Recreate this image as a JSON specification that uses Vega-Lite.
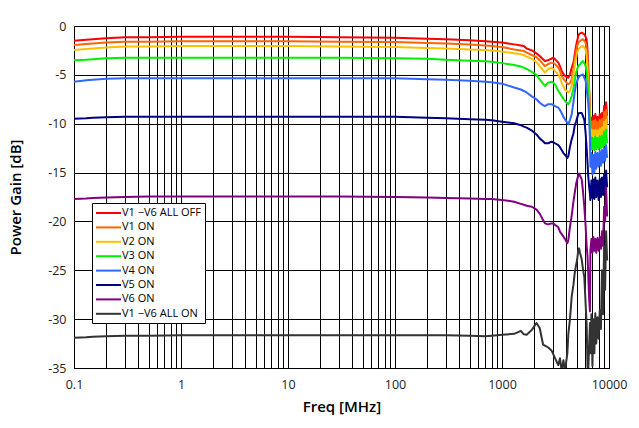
{
  "$schema": "https://vega.github.io/schema/vega-lite/v6.json",
  "width": 535,
  "height": 342,
  "autosize": {"type": "none"},
  "padding": {"left": 74, "top": 26, "right": 30, "bottom": 60},
  "background": "white",
  "config": {
    "view": {"stroke": "black", "strokeWidth": 1},
    "font": "Open Sans"
  },
  "data": {
    "values": [
      {"f": 0.1, "V1 −V6 ALL OFF": -1.5, "V1 ON": -1.95, "V2 ON": -2.45, "V3 ON": -3.5, "V4 ON": -5.7, "V5 ON": -9.5, "V6 ON": -17.7, "V1 −V6 ALL ON": -31.9},
      {"f": 0.13, "V1 −V6 ALL OFF": -1.4, "V1 ON": -1.85, "V2 ON": -2.35, "V3 ON": -3.45, "V4 ON": -5.55, "V5 ON": -9.45, "V6 ON": -17.65, "V1 −V6 ALL ON": -31.85},
      {"f": 0.15, "V1 −V6 ALL OFF": -1.35, "V1 ON": -1.8, "V2 ON": -2.3, "V3 ON": -3.4, "V4 ON": -5.5, "V5 ON": -9.4, "V6 ON": -17.6, "V1 −V6 ALL ON": -31.8},
      {"f": 0.2, "V1 −V6 ALL OFF": -1.25, "V1 ON": -1.7, "V2 ON": -2.2, "V3 ON": -3.3, "V4 ON": -5.4, "V5 ON": -9.35, "V6 ON": -17.55, "V1 −V6 ALL ON": -31.75},
      {"f": 0.3, "V1 −V6 ALL OFF": -1.15, "V1 ON": -1.6, "V2 ON": -2.1, "V3 ON": -3.25, "V4 ON": -5.35, "V5 ON": -9.3, "V6 ON": -17.5, "V1 −V6 ALL ON": -31.7},
      {"f": 0.5, "V1 −V6 ALL OFF": -1.15, "V1 ON": -1.6, "V2 ON": -2.1, "V3 ON": -3.25, "V4 ON": -5.35, "V5 ON": -9.3, "V6 ON": -17.45, "V1 −V6 ALL ON": -31.7},
      {"f": 1, "V1 −V6 ALL OFF": -1.1, "V1 ON": -1.55, "V2 ON": -2.05, "V3 ON": -3.25, "V4 ON": -5.35, "V5 ON": -9.3, "V6 ON": -17.45, "V1 −V6 ALL ON": -31.65},
      {"f": 3, "V1 −V6 ALL OFF": -1.1, "V1 ON": -1.55, "V2 ON": -2.05, "V3 ON": -3.25, "V4 ON": -5.35, "V5 ON": -9.3, "V6 ON": -17.45, "V1 −V6 ALL ON": -31.65},
      {"f": 10, "V1 −V6 ALL OFF": -1.1, "V1 ON": -1.55, "V2 ON": -2.05, "V3 ON": -3.25, "V4 ON": -5.35, "V5 ON": -9.3, "V6 ON": -17.45, "V1 −V6 ALL ON": -31.65},
      {"f": 30, "V1 −V6 ALL OFF": -1.15, "V1 ON": -1.6, "V2 ON": -2.1, "V3 ON": -3.25, "V4 ON": -5.35, "V5 ON": -9.3, "V6 ON": -17.45, "V1 −V6 ALL ON": -31.65},
      {"f": 100, "V1 −V6 ALL OFF": -1.2, "V1 ON": -1.65, "V2 ON": -2.15, "V3 ON": -3.3, "V4 ON": -5.35, "V5 ON": -9.3, "V6 ON": -17.5, "V1 −V6 ALL ON": -31.65},
      {"f": 200, "V1 −V6 ALL OFF": -1.3, "V1 ON": -1.75, "V2 ON": -2.25, "V3 ON": -3.35, "V4 ON": -5.45, "V5 ON": -9.4, "V6 ON": -17.55, "V1 −V6 ALL ON": -31.65},
      {"f": 300, "V1 −V6 ALL OFF": -1.35, "V1 ON": -1.8, "V2 ON": -2.3, "V3 ON": -3.45, "V4 ON": -5.5, "V5 ON": -9.45, "V6 ON": -17.6, "V1 −V6 ALL ON": -31.65},
      {"f": 500, "V1 −V6 ALL OFF": -1.47, "V1 ON": -1.9, "V2 ON": -2.4, "V3 ON": -3.55, "V4 ON": -5.6, "V5 ON": -9.55, "V6 ON": -17.65, "V1 −V6 ALL ON": -31.7},
      {"f": 700, "V1 −V6 ALL OFF": -1.55, "V1 ON": -2.0, "V2 ON": -2.45, "V3 ON": -3.6, "V4 ON": -5.7, "V5 ON": -9.6, "V6 ON": -17.7, "V1 −V6 ALL ON": -31.75},
      {"f": 800, "V1 −V6 ALL OFF": -1.6, "V1 ON": -2.05, "V2 ON": -2.5, "V3 ON": -3.65, "V4 ON": -5.75, "V5 ON": -9.65, "V6 ON": -17.7, "V1 −V6 ALL ON": -31.7},
      {"f": 1000, "V1 −V6 ALL OFF": -1.7, "V1 ON": -2.15, "V2 ON": -2.6, "V3 ON": -3.8, "V4 ON": -5.9, "V5 ON": -9.8, "V6 ON": -17.8, "V1 −V6 ALL ON": -31.6},
      {"f": 1300, "V1 −V6 ALL OFF": -1.88, "V1 ON": -2.4, "V2 ON": -2.8, "V3 ON": -4.0, "V4 ON": -6.3, "V5 ON": -9.96, "V6 ON": -17.98, "V1 −V6 ALL ON": -31.5},
      {"f": 1500, "V1 −V6 ALL OFF": -2.0, "V1 ON": -2.5, "V2 ON": -2.9, "V3 ON": -4.15, "V4 ON": -6.5, "V5 ON": -10.15, "V6 ON": -18.2, "V1 −V6 ALL ON": -31.2},
      {"f": 1600, "V1 −V6 ALL OFF": -2.05, "V1 ON": -2.56, "V2 ON": -2.97, "V3 ON": -4.26, "V4 ON": -6.65, "V5 ON": -10.3, "V6 ON": -18.3, "V1 −V6 ALL ON": -31.55},
      {"f": 1700, "V1 −V6 ALL OFF": -2.3, "V1 ON": -2.73, "V2 ON": -3.14, "V3 ON": -4.4, "V4 ON": -6.8, "V5 ON": -10.4, "V6 ON": -18.4, "V1 −V6 ALL ON": -31.6},
      {"f": 1900, "V1 −V6 ALL OFF": -2.5, "V1 ON": -2.97, "V2 ON": -3.35, "V3 ON": -4.7, "V4 ON": -7.2, "V5 ON": -10.7, "V6 ON": -18.5, "V1 −V6 ALL ON": -31.1},
      {"f": 2100, "V1 −V6 ALL OFF": -2.8, "V1 ON": -3.2, "V2 ON": -3.7, "V3 ON": -5.0, "V4 ON": -7.5, "V5 ON": -11.1, "V6 ON": -18.8, "V1 −V6 ALL ON": -30.4},
      {"f": 2250, "V1 −V6 ALL OFF": -3.07, "V1 ON": -3.5, "V2 ON": -4.1, "V3 ON": -5.46, "V4 ON": -7.85, "V5 ON": -11.5, "V6 ON": -19.2, "V1 −V6 ALL ON": -30.9},
      {"f": 2420, "V1 −V6 ALL OFF": -3.4, "V1 ON": -3.9, "V2 ON": -4.55, "V3 ON": -5.9, "V4 ON": -8.1, "V5 ON": -11.8, "V6 ON": -19.85, "V1 −V6 ALL ON": -32.6},
      {"f": 2520, "V1 −V6 ALL OFF": -3.58, "V1 ON": -4.1, "V2 ON": -4.78, "V3 ON": -6.14, "V4 ON": -8.2, "V5 ON": -12.0, "V6 ON": -20.2, "V1 −V6 ALL ON": -32.7},
      {"f": 2700, "V1 −V6 ALL OFF": -3.5, "V1 ON": -3.9, "V2 ON": -4.4, "V3 ON": -5.8, "V4 ON": -8.0, "V5 ON": -12.0, "V6 ON": -20.3, "V1 −V6 ALL ON": -32.9},
      {"f": 2900, "V1 −V6 ALL OFF": -3.35, "V1 ON": -3.75, "V2 ON": -4.26, "V3 ON": -5.7, "V4 ON": -8.0, "V5 ON": -11.84, "V6 ON": -20.2, "V1 −V6 ALL ON": -33.2},
      {"f": 3020, "V1 −V6 ALL OFF": -3.24, "V1 ON": -3.8, "V2 ON": -4.4, "V3 ON": -5.8, "V4 ON": -8.1, "V5 ON": -11.9, "V6 ON": -20.2, "V1 −V6 ALL ON": -33.6},
      {"f": 3130, "V1 −V6 ALL OFF": -3.4, "V1 ON": -3.9, "V2 ON": -4.6, "V3 ON": -5.97, "V4 ON": -8.2, "V5 ON": -12.0, "V6 ON": -20.35, "V1 −V6 ALL ON": -34.0},
      {"f": 3360, "V1 −V6 ALL OFF": -3.75, "V1 ON": -4.26, "V2 ON": -4.95, "V3 ON": -6.65, "V4 ON": -8.36, "V5 ON": -12.2, "V6 ON": -20.6, "V1 −V6 ALL ON": -34.7},
      {"f": 3480, "V1 −V6 ALL OFF": -4.1, "V1 ON": -4.6, "V2 ON": -5.3, "V3 ON": -6.9, "V4 ON": -8.6, "V5 ON": -12.4, "V6 ON": -21.05, "V1 −V6 ALL ON": -34.0},
      {"f": 3610, "V1 −V6 ALL OFF": -4.6, "V1 ON": -5.1, "V2 ON": -5.8, "V3 ON": -7.16, "V4 ON": -8.9, "V5 ON": -12.7, "V6 ON": -21.3, "V1 −V6 ALL ON": -35.3},
      {"f": 3750, "V1 −V6 ALL OFF": -4.9, "V1 ON": -5.4, "V2 ON": -6.2, "V3 ON": -7.45, "V4 ON": -9.3, "V5 ON": -13.0, "V6 ON": -21.56, "V1 −V6 ALL ON": -34.2},
      {"f": 3880, "V1 −V6 ALL OFF": -5.1, "V1 ON": -5.6, "V2 ON": -6.5, "V3 ON": -7.68, "V4 ON": -9.55, "V5 ON": -13.2, "V6 ON": -21.8, "V1 −V6 ALL ON": -35.3},
      {"f": 4080, "V1 −V6 ALL OFF": -5.25, "V1 ON": -5.9, "V2 ON": -6.7, "V3 ON": -7.9, "V4 ON": -9.9, "V5 ON": -13.5, "V6 ON": -22.24, "V1 −V6 ALL ON": -33.5},
      {"f": 4170, "V1 −V6 ALL OFF": -5.3, "V1 ON": -5.97, "V2 ON": -6.8, "V3 ON": -8.0, "V4 ON": -10.06, "V5 ON": -13.3, "V6 ON": -21.9, "V1 −V6 ALL ON": -31.5},
      {"f": 4320, "V1 −V6 ALL OFF": -4.95, "V1 ON": -5.8, "V2 ON": -6.6, "V3 ON": -7.7, "V4 ON": -9.6, "V5 ON": -12.35, "V6 ON": -20.5, "V1 −V6 ALL ON": -30.0},
      {"f": 4480, "V1 −V6 ALL OFF": -4.3, "V1 ON": -5.46, "V2 ON": -6.1, "V3 ON": -7.16, "V4 ON": -9.04, "V5 ON": -11.6, "V6 ON": -19.4, "V1 −V6 ALL ON": -27.7},
      {"f": 4650, "V1 −V6 ALL OFF": -3.75, "V1 ON": -4.4, "V2 ON": -5.0, "V3 ON": -6.4, "V4 ON": -7.8, "V5 ON": -11.0, "V6 ON": -18.0, "V1 −V6 ALL ON": -26.5},
      {"f": 4780, "V1 −V6 ALL OFF": -2.9, "V1 ON": -3.4, "V2 ON": -4.1, "V3 ON": -5.6, "V4 ON": -6.8, "V5 ON": -10.2, "V6 ON": -17.1, "V1 −V6 ALL ON": -25.3},
      {"f": 4920, "V1 −V6 ALL OFF": -2.05, "V1 ON": -2.6, "V2 ON": -3.3, "V3 ON": -4.8, "V4 ON": -6.0, "V5 ON": -9.8, "V6 ON": -16.2, "V1 −V6 ALL ON": -24.5},
      {"f": 5040, "V1 −V6 ALL OFF": -1.5, "V1 ON": -2.05, "V2 ON": -2.7, "V3 ON": -4.4, "V4 ON": -5.6, "V5 ON": -9.4, "V6 ON": -15.7, "V1 −V6 ALL ON": -23.9},
      {"f": 5170, "V1 −V6 ALL OFF": -1.0, "V1 ON": -1.7, "V2 ON": -2.4, "V3 ON": -4.1, "V4 ON": -5.3, "V5 ON": -9.0, "V6 ON": -15.3, "V1 −V6 ALL ON": -22.9},
      {"f": 5250, "V1 −V6 ALL OFF": -0.85, "V1 ON": -1.6, "V2 ON": -2.3, "V3 ON": -4.0, "V4 ON": -5.2, "V5 ON": -8.9, "V6 ON": -15.1, "V1 −V6 ALL ON": -22.75},
      {"f": 5360, "V1 −V6 ALL OFF": -0.75, "V1 ON": -1.54, "V2 ON": -2.2, "V3 ON": -3.9, "V4 ON": -5.1, "V5 ON": -8.9, "V6 ON": -15.3, "V1 −V6 ALL ON": -23.2},
      {"f": 5560, "V1 −V6 ALL OFF": -0.68, "V1 ON": -1.4, "V2 ON": -2.1, "V3 ON": -3.7, "V4 ON": -5.0, "V5 ON": -8.9, "V6 ON": -15.7, "V1 −V6 ALL ON": -23.9},
      {"f": 5700, "V1 −V6 ALL OFF": -0.75, "V1 ON": -1.36, "V2 ON": -2.05, "V3 ON": -3.58, "V4 ON": -4.95, "V5 ON": -9.2, "V6 ON": -16.8, "V1 −V6 ALL ON": -24.8},
      {"f": 5880, "V1 −V6 ALL OFF": -0.85, "V1 ON": -1.5, "V2 ON": -2.2, "V3 ON": -3.8, "V4 ON": -5.3, "V5 ON": -9.6, "V6 ON": -18.5, "V1 −V6 ALL ON": -25.7},
      {"f": 6050, "V1 −V6 ALL OFF": -1.1, "V1 ON": -1.7, "V2 ON": -2.4, "V3 ON": -4.1, "V4 ON": -5.6, "V5 ON": -11.0, "V6 ON": -20.5, "V1 −V6 ALL ON": -28.5},
      {"f": 6180, "V1 −V6 ALL OFF": -1.36, "V1 ON": -2.4, "V2 ON": -3.24, "V3 ON": -4.78, "V4 ON": -6.5, "V5 ON": -12.5, "V6 ON": -22.5, "V1 −V6 ALL ON": -30.5},
      {"f": 6300, "V1 −V6 ALL OFF": -2.5, "V1 ON": -3.5, "V2 ON": -4.5, "V3 ON": -5.8, "V4 ON": -7.2, "V5 ON": -14.0, "V6 ON": -23.6, "V1 −V6 ALL ON": -34.9},
      {"f": 6400, "V1 −V6 ALL OFF": -4.1, "V1 ON": -4.8, "V2 ON": -5.8, "V3 ON": -6.8, "V4 ON": -8.0, "V5 ON": -15.4, "V6 ON": -25.5, "V1 −V6 ALL ON": -35.3},
      {"f": 6530, "V1 −V6 ALL OFF": -6.5, "V1 ON": -6.8, "V2 ON": -7.5, "V3 ON": -8.2, "V4 ON": -9.5, "V5 ON": -16.5, "V6 ON": -28.0, "V1 −V6 ALL ON": -32.5},
      {"f": 6640, "V1 −V6 ALL OFF": -8.5, "V1 ON": -9.2, "V2 ON": -10.0, "V3 ON": -10.5, "V4 ON": -11.5, "V5 ON": -17.2, "V6 ON": -29.2, "V1 −V6 ALL ON": -30.4},
      {"f": 6700, "V1 −V6 ALL OFF": -10.2, "V1 ON": -10.8, "V2 ON": -11.3, "V3 ON": -12.7, "V4 ON": -14.4, "V5 ON": -17.8, "V6 ON": -23.0, "V1 −V6 ALL ON": -33.5},
      {"f": 6850, "V1 −V6 ALL OFF": -9.4, "V1 ON": -9.8, "V2 ON": -10.6, "V3 ON": -11.4, "V4 ON": -13.0, "V5 ON": -15.8, "V6 ON": -21.8, "V1 −V6 ALL ON": -29.5},
      {"f": 7000, "V1 −V6 ALL OFF": -10.3, "V1 ON": -10.8, "V2 ON": -11.3, "V3 ON": -12.6, "V4 ON": -15.2, "V5 ON": -17.6, "V6 ON": -23.2, "V1 −V6 ALL ON": -34.8},
      {"f": 7150, "V1 −V6 ALL OFF": -9.2, "V1 ON": -9.7, "V2 ON": -10.7, "V3 ON": -11.5, "V4 ON": -13.2, "V5 ON": -15.7, "V6 ON": -21.6, "V1 −V6 ALL ON": -30.0},
      {"f": 7300, "V1 −V6 ALL OFF": -10.0, "V1 ON": -10.7, "V2 ON": -11.3, "V3 ON": -12.7, "V4 ON": -15.0, "V5 ON": -17.7, "V6 ON": -23.0, "V1 −V6 ALL ON": -33.5},
      {"f": 7450, "V1 −V6 ALL OFF": -9.0, "V1 ON": -9.6, "V2 ON": -10.6, "V3 ON": -11.3, "V4 ON": -12.9, "V5 ON": -15.5, "V6 ON": -21.8, "V1 −V6 ALL ON": -29.4},
      {"f": 7600, "V1 −V6 ALL OFF": -10.1, "V1 ON": -10.8, "V2 ON": -11.2, "V3 ON": -12.6, "V4 ON": -14.6, "V5 ON": -17.5, "V6 ON": -23.2, "V1 −V6 ALL ON": -32.5},
      {"f": 7800, "V1 −V6 ALL OFF": -9.3, "V1 ON": -9.8, "V2 ON": -10.7, "V3 ON": -11.4, "V4 ON": -13.0, "V5 ON": -15.8, "V6 ON": -21.7, "V1 −V6 ALL ON": -29.8},
      {"f": 8000, "V1 −V6 ALL OFF": -9.8, "V1 ON": -10.6, "V2 ON": -11.3, "V3 ON": -12.6, "V4 ON": -14.4, "V5 ON": -17.8, "V6 ON": -23.0, "V1 −V6 ALL ON": -32.0},
      {"f": 8200, "V1 −V6 ALL OFF": -9.0, "V1 ON": -9.6, "V2 ON": -10.5, "V3 ON": -11.3, "V4 ON": -12.8, "V5 ON": -15.6, "V6 ON": -21.6, "V1 −V6 ALL ON": -29.1},
      {"f": 8400, "V1 −V6 ALL OFF": -9.9, "V1 ON": -10.7, "V2 ON": -11.2, "V3 ON": -12.5, "V4 ON": -14.3, "V5 ON": -17.5, "V6 ON": -22.8, "V1 −V6 ALL ON": -31.0},
      {"f": 8600, "V1 −V6 ALL OFF": -8.9, "V1 ON": -9.5, "V2 ON": -10.4, "V3 ON": -11.2, "V4 ON": -12.7, "V5 ON": -15.5, "V6 ON": -21.0, "V1 −V6 ALL ON": -25.0},
      {"f": 8800, "V1 −V6 ALL OFF": -9.6, "V1 ON": -10.5, "V2 ON": -11.1, "V3 ON": -12.4, "V4 ON": -14.0, "V5 ON": -17.3, "V6 ON": -22.5, "V1 −V6 ALL ON": -29.5},
      {"f": 9000, "V1 −V6 ALL OFF": -8.2, "V1 ON": -8.8, "V2 ON": -9.8, "V3 ON": -10.8, "V4 ON": -12.5, "V5 ON": -15.2, "V6 ON": -18.5, "V1 −V6 ALL ON": -22.5},
      {"f": 9200, "V1 −V6 ALL OFF": -9.3, "V1 ON": -10.2, "V2 ON": -10.9, "V3 ON": -12.2, "V4 ON": -13.8, "V5 ON": -17.0, "V6 ON": -20.0, "V1 −V6 ALL ON": -27.0},
      {"f": 9400, "V1 −V6 ALL OFF": -7.8, "V1 ON": -8.6, "V2 ON": -9.6, "V3 ON": -10.6, "V4 ON": -12.2, "V5 ON": -14.8, "V6 ON": -16.5, "V1 −V6 ALL ON": -21.0},
      {"f": 9600, "V1 −V6 ALL OFF": -9.2, "V1 ON": -10.0, "V2 ON": -10.8, "V3 ON": -12.0, "V4 ON": -13.5, "V5 ON": -16.5, "V6 ON": -19.5, "V1 −V6 ALL ON": -24.0}
    ]
  },
  "transform": [
    {
      "fold": ["V1 −V6 ALL OFF", "V1 ON", "V2 ON", "V3 ON", "V4 ON", "V5 ON", "V6 ON", "V1 −V6 ALL ON"],
      "as": ["series", "gain"]
    }
  ],
  "mark": {"type": "line", "clip": true, "strokeJoin": "round"},
  "encoding": {
    "x": {
      "field": "f",
      "type": "quantitative",
      "scale": {"type": "log", "domain": [0.1, 10000], "nice": false},
      "axis": {
        "title": "Freq [MHz]",
        "values": [0.1, 0.2, 0.3, 0.4, 0.5, 0.6, 0.7, 0.8, 0.9, 1, 2, 3, 4, 5, 6, 7, 8, 9, 10, 20, 30, 40, 50, 60, 70, 80, 90, 100, 200, 300, 400, 500, 600, 700, 800, 900, 1000, 2000, 3000, 4000, 5000, 6000, 7000, 8000, 9000, 10000],
        "labelExpr": "indexof([0.1, 1, 10, 100, 1000, 10000], datum.value) >= 0 ? (datum.value < 1 ? '0.1' : format(datum.value, 'd')) : ''",
        "grid": true,
        "gridColor": "black",
        "gridOpacity": 1,
        "gridWidth": 1,
        "ticks": false,
        "domain": false,
        "labelFlush": false,
        "labelOverlap": false,
        "labelPadding": 10,
        "labelFontSize": 12.5,
        "labelColor": "#222222",
        "titleFontSize": 15,
        "titleFontWeight": 600,
        "titleColor": "black",
        "titlePadding": 9
      }
    },
    "y": {
      "field": "gain",
      "type": "quantitative",
      "scale": {"domain": [-35, 0], "nice": false},
      "axis": {
        "title": "Power Gain [dB]",
        "values": [-35, -30, -25, -20, -15, -10, -5, 0],
        "labelExpr": "'' + datum.value",
        "grid": true,
        "gridColor": "black",
        "gridOpacity": 1,
        "gridWidth": 1,
        "ticks": false,
        "domain": false,
        "labelPadding": 8,
        "labelFontSize": 12.5,
        "labelColor": "#222222",
        "titleFontSize": 15,
        "titleFontWeight": 600,
        "titleColor": "black",
        "titlePadding": 24
      }
    },
    "color": {
      "field": "series",
      "type": "nominal",
      "scale": {
        "domain": ["V1 −V6 ALL OFF", "V1 ON", "V2 ON", "V3 ON", "V4 ON", "V5 ON", "V6 ON", "V1 −V6 ALL ON"],
        "range": ["#ff0000", "#ff6600", "#ffc000", "#00f000", "#3366ff", "#000080", "#800080", "#333333"]
      },
      "legend": {
        "title": null,
        "orient": "none",
        "legendX": 18,
        "legendY": 177,
        "strokeColor": "black",
        "fillColor": "white",
        "padding": 4,
        "symbolType": "M-1.2,0H3.8",
        "symbolSize": 100,
        "symbolStrokeWidth": 2,
        "labelFontSize": 11,
        "labelColor": "black",
        "labelOffset": 14,
        "labelLimit": 200,
        "rowPadding": 3.4,
        "encode": {
          "symbols": {
            "update": {
              "strokeWidth": {"signal": "indexof(['V4 ON', 'V1 −V6 ALL ON'], datum.value) >= 0 ? 3 : 2"}
            }
          }
        }
      }
    },
    "strokeWidth": {
      "field": "series",
      "type": "nominal",
      "scale": {
        "domain": ["V1 −V6 ALL OFF", "V1 ON", "V2 ON", "V3 ON", "V4 ON", "V5 ON", "V6 ON", "V1 −V6 ALL ON"],
        "range": [2, 2, 2, 2, 3, 2, 2, 3]
      },
      "legend": null
    }
  }
}
